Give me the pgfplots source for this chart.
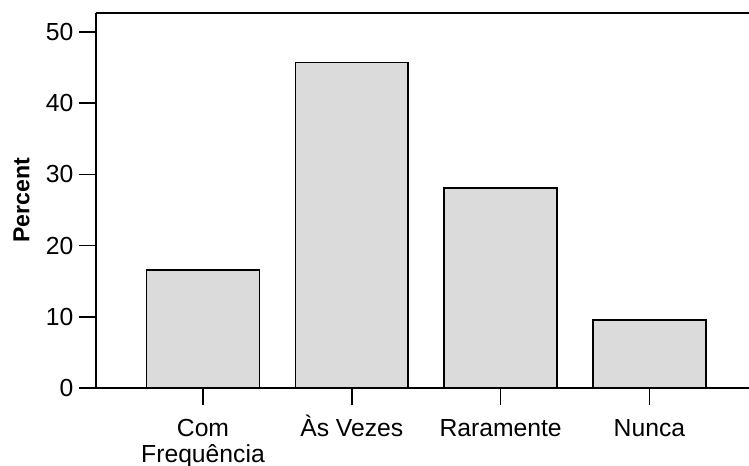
\documentclass[border=0pt]{standalone}
\usepackage{fontspec}
\setmainfont{Liberation Sans}
\usepackage{pgfplots}
\pgfplotsset{compat=1.18}

\definecolor{barfill}{gray}{0.86}
\newcommand{\tall}{\rule{0pt}{23.5bp}}

\begin{document}
\begin{tikzpicture}
\begin{axis}[
    name=ax,
    scale only axis,
    width=653bp, height=375bp,
    xmin=-0.719, xmax=3.669,
    ymin=0, ymax=52.67,
    axis x line*=box,
    axis y line*=left,
    axis line style={line width=1.6bp},
    tick align=outside,
    xtick pos=bottom, ytick pos=left,
    major tick length=17bp,
    tick style={line width=1.6bp, black},
    xtick={0,1,2,3},
    xticklabels={{\tall Com\\Frequência}, {\tall Às Vezes}, {\tall Raramente}, {\tall Nunca}},
    ytick={0,10,20,30,40,50},
    /pgf/number format/assume math mode=true,
    tick label style={font=\fontsize{24.8}{27}\selectfont},
    xticklabel style={align=center, yshift=-4bp},
    yticklabel style={xshift=-2bp},
    ylabel={Percent},
    ylabel style={font=\fontsize{23.2}{26}\selectfont\bfseries,
                  at={(axis description cs:-0.1141,0.5)}, anchor=center},
    ybar, bar width=112.7bp,
]
\addplot[draw=black, line width=1.6bp, fill=barfill] coordinates {
    (0,16.6) (1,45.7) (2,28.1) (3,9.55)
};
\end{axis}
\pgfresetboundingbox
\path ([shift={(-96bp,-78bp)}]ax.south west) rectangle ([shift={(0bp,13bp)}]ax.north east);
\end{tikzpicture}
\end{document}
